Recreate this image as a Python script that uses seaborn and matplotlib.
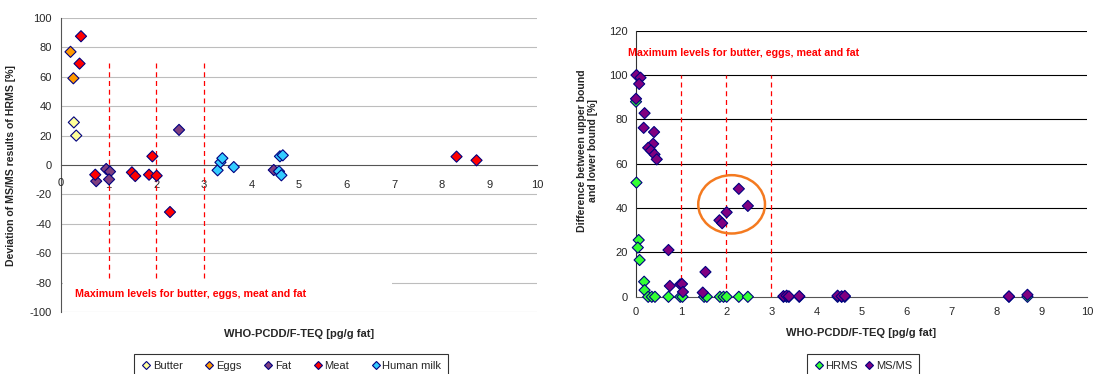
import pandas as pd
import matplotlib.pyplot as plt
import seaborn as sns
from matplotlib.patches import Ellipse, Rectangle
from matplotlib.lines import Line2D

# ─────────────────────────────────────────────
# Data
# ─────────────────────────────────────────────
butter_x = [0.27, 0.32]
butter_y = [29, 20]
eggs_x = [0.20, 0.26]
eggs_y = [77, 59]
fat_x = [0.74, 0.95, 1.03, 1.01, 2.48, 4.47]
fat_y = [-11, -2.7, -4.5, -9.8, 23.9, -3.4]
meat_x = [0.42, 0.39, 0.72, 1.49, 1.56, 1.92, 1.85, 2.01, 2.29, 8.31, 8.73]
meat_y = [87.6, 69, -6.6, -5, -7.5, 5.9, -6.6, -7.3, -32, 5.7, 3.2]
milk_x = [3.29, 3.35, 3.39, 3.63, 4.58, 4.63, 4.60, 4.66]
milk_y = [-3.6, 1.8, 4.6, -1.4, -4.3, -7, 5.9, 6.6]

hrms_x = [0.0, 0.01, 0.06, 0.04, 0.08, 0.18, 0.19, 0.27, 0.35, 0.42, 0.72,
          0.98, 1.03, 1.51, 1.57, 1.86, 1.94, 2.01, 2.28, 2.48,
          3.27, 3.34, 3.39, 3.62, 4.47, 4.56, 4.63, 8.27, 8.68]
hrms_y = [88, 51.5, 25.6, 22.2, 16.6, 6.8, 3, 0, 0, 0, 0,
          0, 0, 0, 0, 0, 0, 0, 0, 0,
          0, 0, 0, 0, 0, 0, 0, 0, 0]
msms_x = [0.01, 0.10, 0.07, 0.0, 0.19, 0.17, 0.40, 0.38, 0.27, 0.33, 0.41, 0.46,
          0.72, 0.75, 0.98, 1.02, 1.04, 1.48, 1.54, 1.85, 1.91, 2.01, 2.28, 2.48,
          3.27, 3.34, 3.39, 3.62, 4.47, 4.56, 4.63, 8.27, 8.68]
msms_y = [100, 98.8, 96, 89.3, 82.8, 76.2, 74.3, 69, 67.2, 66, 64.2, 62,
          21.1, 4.9, 5.6, 5.8, 2.2, 1.9, 11.2, 34.5, 33.2, 38.1, 48.7, 41,
          0.3, 0.5, 0.2, 0.3, 0.5, 0.2, 0.4, 0.2, 0.9]

max_levels = [1, 2, 3]
note = "Maximum levels for butter, eggs, meat and fat"

left = pd.concat([
    pd.DataFrame({"TEQ": butter_x, "dev": butter_y, "Sample": "Butter"}),
    pd.DataFrame({"TEQ": eggs_x, "dev": eggs_y, "Sample": "Eggs"}),
    pd.DataFrame({"TEQ": fat_x, "dev": fat_y, "Sample": "Fat"}),
    pd.DataFrame({"TEQ": meat_x, "dev": meat_y, "Sample": "Meat"}),
    pd.DataFrame({"TEQ": milk_x, "dev": milk_y, "Sample": "Human milk"}),
], ignore_index=True)
right = pd.concat([
    pd.DataFrame({"TEQ": hrms_x, "diff": hrms_y, "Method": "HRMS"}),
    pd.DataFrame({"TEQ": msms_x, "diff": msms_y, "Method": "MS/MS"}),
], ignore_index=True)

left_pal = {"Butter": "#FFFF99", "Eggs": "#FF9900", "Fat": "#7F3F7F",
            "Meat": "#FF0000", "Human milk": "#33CCFF"}
right_pal = {"HRMS": "#33FF33", "MS/MS": "#800080"}
edge = "#000080"

sns.set_style("white")
plt.rcParams["font.family"] = ["Liberation Sans", "DejaVu Sans"]
plt.rcParams["font.size"] = 8
plt.rcParams["axes.unicode_minus"] = False

fig = plt.figure(figsize=(10.93, 3.74), dpi=100)
ax1 = fig.add_axes([0.0558, 0.1658, 0.4355, 0.786])
ax2 = fig.add_axes([0.5819, 0.2064, 0.4126, 0.7115])

# ─────────────────────────────────────────────
# Left panel — deviation of MS/MS vs HRMS
# ─────────────────────────────────────────────
ax1.set_xlim(0, 10)
ax1.set_ylim(-100, 100)
ax1.set_yticks(range(-100, 101, 20))
ax1.set_xticks(range(1, 11))
for yv in range(-100, 101, 20):
    if yv != 0:
        ax1.axhline(yv, color="#BDBDBD", lw=0.8, zorder=0)
ax1.add_patch(Rectangle((0.05, -91), 6.9, 12, facecolor="white",
                        edgecolor="none", zorder=1))
ax1.vlines(max_levels, -77, 71, colors="red", linestyles=(0, (4, 3)), lw=0.9, zorder=2)
sns.scatterplot(data=left, x="TEQ", y="dev", hue="Sample", palette=left_pal,
                marker="D", s=32, edgecolor=edge, linewidth=0.8,
                legend=False, ax=ax1, zorder=4, clip_on=False)
ax1.text(0.29, -88, note, color="red", fontweight="bold", fontsize=7.7,
         va="center", zorder=3)

ax1.spines["top"].set_visible(False)
ax1.spines["right"].set_visible(False)
ax1.spines["bottom"].set_position(("data", 0))
ax1.spines["bottom"].set_color("#555555")
ax1.spines["left"].set_color("#555555")
ax1.tick_params(axis="x", direction="in", length=3, pad=11, labelsize=8)
ax1.tick_params(axis="y", direction="out", length=3, labelsize=8)
ax1.text(0, -8.5, "0", ha="center", va="top", fontsize=8)
ax1.set_xlabel("WHO-PCDD/F-TEQ [pg/g fat]", fontweight="bold", fontsize=8)
ax1.xaxis.set_label_coords(0.5, -0.058)
ax1.set_ylabel("Deviation of MS/MS results of HRMS [%]", fontweight="bold", fontsize=7.6)
ax1.yaxis.set_label_coords(-0.095, 0.5)

handles1 = [Line2D([], [], marker="D", ls="none", ms=4, mfc=c, mec=edge, mew=0.8, label=k)
            for k, c in left_pal.items()]
fig.legend(handles=handles1, loc="upper left", bbox_to_anchor=(0.1226, 0.0535),
           ncol=5, frameon=True, fancybox=False, edgecolor="black", fontsize=8,
           handletextpad=0.1, columnspacing=1.9, handlelength=1.0,
           borderpad=0.6, borderaxespad=0).get_frame().set_linewidth(0.8)

# ─────────────────────────────────────────────
# Right panel — upper bound vs lower bound difference
# ─────────────────────────────────────────────
ax2.set_xlim(0, 10)
ax2.set_ylim(0, 120)
ax2.set_yticks(range(0, 121, 20))
ax2.set_xticks(range(0, 11))
for yv in range(20, 121, 20):
    ax2.axhline(yv, color="black", lw=0.8, zorder=0)
ax2.vlines(max_levels, 0, 100, colors="red", linestyles=(0, (4, 3)), lw=0.9, zorder=1)
sns.scatterplot(data=right, x="TEQ", y="diff", hue="Method", palette=right_pal,
                marker="D", s=32, edgecolor=edge, linewidth=0.8,
                legend=False, ax=ax2, zorder=4, clip_on=False)
ax2.add_patch(Ellipse((2.12, 41.7), 1.48, 26.3, fill=False,
                      edgecolor="#F47A20", lw=1.8, zorder=5))
ax2.text(-0.18, 110, note, color="red", fontweight="bold", fontsize=7.7,
         va="center", zorder=3)

ax2.spines["top"].set_visible(False)
ax2.spines["right"].set_visible(False)
ax2.spines["bottom"].set_color("#555555")
ax2.spines["left"].set_color("#333333")
ax2.tick_params(axis="both", direction="inout", length=5, labelsize=8)
ax2.tick_params(axis="x", pad=5)
ax2.set_xlabel("WHO-PCDD/F-TEQ [pg/g fat]", fontweight="bold", fontsize=8)
ax2.xaxis.set_label_coords(0.5, -0.118)
ax2.set_ylabel("Difference between upper bound\nand lower bound [%]",
               fontweight="bold", fontsize=7.6, linespacing=1.1)
ax2.yaxis.set_label_coords(-0.085, 0.55)

handles2 = [Line2D([], [], marker="D", ls="none", ms=4, mfc=c, mec=edge, mew=0.8, label=k)
            for k, c in right_pal.items()]
fig.legend(handles=handles2, loc="upper left", bbox_to_anchor=(0.738, 0.0535),
           ncol=2, frameon=True, fancybox=False, edgecolor="black", fontsize=8,
           handletextpad=0.1, columnspacing=0.5, handlelength=1.0,
           borderpad=0.6, borderaxespad=0).get_frame().set_linewidth(0.8)

fig.savefig("out.png", dpi=100)
plt.close(fig)
